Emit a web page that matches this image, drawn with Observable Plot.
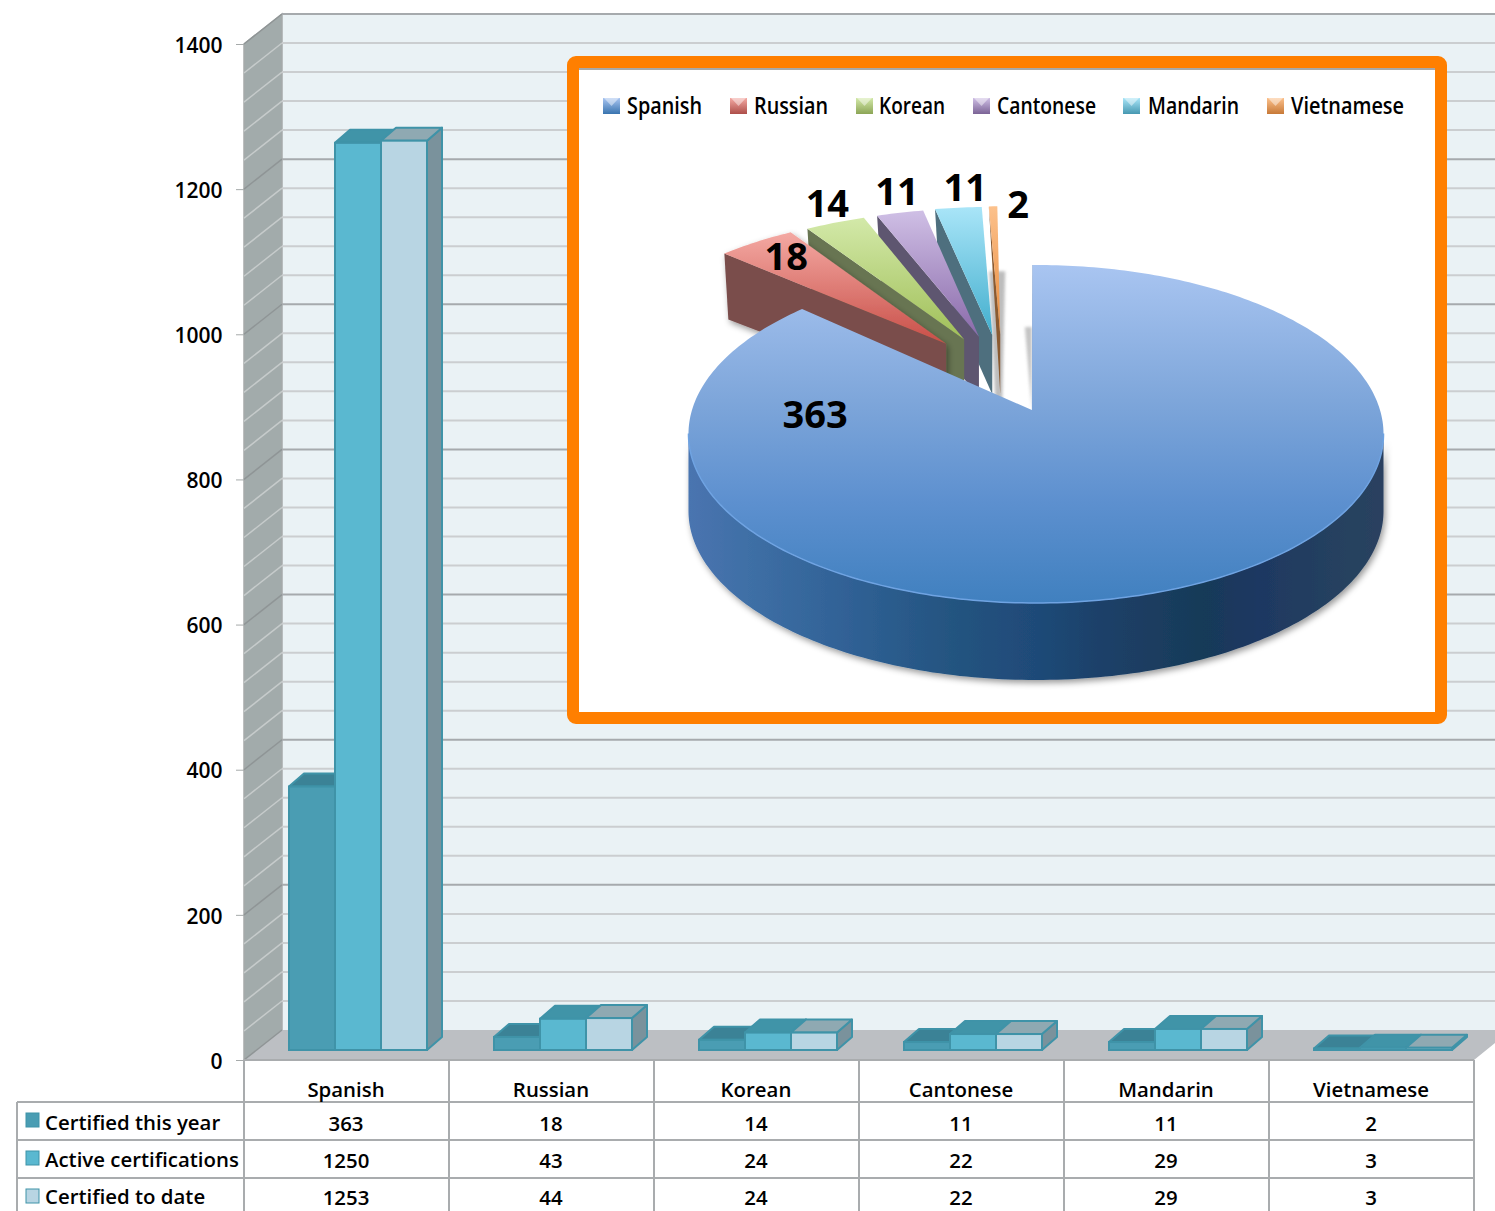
<!DOCTYPE html>
<html>
<head>
<meta charset="utf-8">
<script src="https://cdn.jsdelivr.net/npm/d3@7"></script>
<script src="https://cdn.jsdelivr.net/npm/@observablehq/plot@0.6"></script>
<style>
html,body{margin:0;padding:0;background:#fff;overflow:hidden}
svg{display:block}
</style>
</head>
<body>
<div id="chart"></div>
<script>
// ---- data ----
const categories = ["Spanish","Russian","Korean","Cantonese","Mandarin","Vietnamese"];
const seriesNames = ["Certified this year","Active certifications","Certified to date"];
const certifiedThisYear = [363,18,14,11,11,2];
const activeCertifications = [1250,43,24,22,29,3];
const certifiedToDate = [1253,44,24,22,29,3];
const yTicks = [0,200,400,600,800,1000,1200,1400];
const gridTicks = d3.range(0,1401,40);

// ---- styles ----
const seriesValues = [certifiedThisYear,activeCertifications,certifiedToDate];
const barFront = ["#4a9db3","#5ab8d0","#b8d5e3"];
const barTop = ["#3b8296","#4094a8","#8fa9b2"];
const barSide = ["#3b8296","#4094a8","#7a929c"];
const barStroke = "#3f93a8";
const tableFont = "'Open Sans','DejaVu Sans',sans-serif";
const pieTop = [["#a9c5f1","#4080bf"],["#f4a9a3","#c84e47"],["#d3e9a9","#a0bf58"],["#cfbfe5","#8a6aaa"],["#a9e5f8","#42aecd"],["#fcc18c","#e88a3a"]];
const pieSide = ["#2c5d92","#7a4e4c","#687552","#5e5670","#4e6f7e","#8a5a30"];
const legendSwatchX = [603,730,856,973,1123,1267];
const legendTextX = [627,754,879,997,1148,1291];
const legendTextW = [75,74,66,99,91,113];
const pieLabelNudge = [[-382,-169],[30,15],[-10,-19],[-3,-21],[7,-20],[25,-2]];

// ---- geometry ----
const width = 1495, height = 1211;
const marginLeft = 244, marginRight = 21, marginTop = 34, marginBottom = 161;
const colW = (width-marginLeft-marginRight)/categories.length;
const barStart = 45/colW, barW = 46/colW;
const axisDy = 10;
const barDepth = [15,-13];
const wallDepth = [38,-30];

const rows = seriesValues.flatMap((vals,s)=>vals.map((value,i)=>({s,i,value,category:categories[i]})));

const addPoly = (g,pts,attrs={})=>{
  const p = g.append("path").attr("d","M"+pts.map(q=>q.join(",")).join("L")+"Z");
  for (const k in attrs) p.attr(k,attrs[k]);
  return p;
};
const addLine = (g,x1,y1,x2,y2,stroke,w=2)=>g.append("line").attr("x1",x1).attr("y1",y1).attr("x2",x2).attr("y2",y2).attr("stroke",stroke).attr("stroke-width",w);

// walls, floor and their grid lines
function walls(index,{x,y}){
  const g = d3.create("svg:g");
  const x0=x(0), xE=width, y0=y(0)+axisDy, yT=y(1400)+axisDy;
  const [wx,wy]=wallDepth;
  addPoly(g,[[x0+wx,yT+wy],[xE,yT+wy],[xE,y0+wy],[x0+wx,y0+wy]],{fill:"#eaf2f5"});
  addPoly(g,[[x0,yT],[x0+wx,yT+wy],[x0+wx,y0+wy],[x0,y0]],{fill:"#a2abab",stroke:"#a6aaaa","stroke-width":1.5});
  addPoly(g,[[x0,y0],[x0+wx,y0+wy],[xE,y0+wy],[xE,y0+wy+13],[x(6),y0]],{fill:"#bcbfc3"});
  for(const t of gridTicks){
    const major=t%200===0;
    const yy=y(t)+axisDy;
    addLine(g,x0,yy,x0+wx,yy+wy,major?"#8f9596":"#c6cbcb",1.5);
    if(t>0) addLine(g,x0+wx,yy+wy,xE,yy+wy,major?"#a6aaad":"#cbced0",2);
  }
  addLine(g,x0,y0,x(6),y0,"#a9acae",2);
  return g.node();
}

// the depth faces of each 3D bar
const barFaces = s => (index,{x,y})=>{
  const g = d3.create("svg:g");
  const [dx,dy]=barDepth;
  categories.forEach((c,i)=>{
    const v=seriesValues[s][i];
    const xa=x(i+barStart+s*barW), xb=x(i+barStart+(s+1)*barW), yt=y(v), yb=y(0);
    addPoly(g,[[xb,yt],[xb+dx,yt+dy],[xb+dx,yb+dy],[xb,yb]],{fill:barSide[s],stroke:barStroke,"stroke-width":2,"stroke-linejoin":"round"});
    addPoly(g,[[xa,yt],[xa+dx,yt+dy],[xb+dx,yt+dy],[xb,yt]],{fill:barTop[s],stroke:barStroke,"stroke-width":2,"stroke-linejoin":"round"});
  });
  return g.node();
};

// table rules and key swatches under the axis
const tableY = [42,80,118,161]; // distances below the bar baseline
function tableRules(index,{x,y}){
  const g = d3.create("svg:g");
  const base=y(0), col="#a9acae";
  d3.range(categories.length+1).forEach(i=>addLine(g,x(i),base+axisDy,x(i),base+tableY[3],col,2));
  addLine(g,x(0)-227,base+tableY[0]+10,x(0)-227,base+tableY[3],col,2);
  tableY.slice(0,3).forEach(t=>addLine(g,x(0)-227,base+t+10,x(6),base+t+10,col,2));
  seriesNames.forEach((n,s)=>{
    g.append("rect").attr("x",x(0)-218).attr("y",base+63+s*38).attr("width",13).attr("height",14)
     .attr("fill",barFront[s]).attr("stroke",barStroke).attr("stroke-width",1);
  });
  return g.node();
}

// inset frame, 3D pie and its legend
const deg = Math.PI/180;
const cx=1036, cy=410, A=344, B=165.6, K=0.142;
const P=(u,v,z=0)=>{const w=1+K*v;return [cx+A*u/w, cy-B*v/w+z];};
function inset(){
  const g = d3.create("svg:g");
  const defs = g.append("defs");
  const grad=(id,stops,attrs)=>{
    const lg=defs.append("linearGradient").attr("id",id).attr("gradientUnits","userSpaceOnUse");
    for(const k in attrs) lg.attr(k,attrs[k]);
    stops.forEach(([o,c])=>lg.append("stop").attr("offset",o).attr("stop-color",c));
  };
  const f=defs.append("filter").attr("id","pieShadow").attr("x","-30%").attr("y","-20%").attr("width","160%").attr("height","140%");
  f.append("feDropShadow").attr("dx",2).attr("dy",3).attr("stdDeviation",3).attr("flood-color","#000").attr("flood-opacity",.4);
  defs.append("filter").attr("id","softBlur").attr("x","-60%").attr("width","220%").append("feGaussianBlur").attr("stdDeviation",1.5);

  g.append("rect").attr("x",573).attr("y",62).attr("width",868).attr("height",656).attr("rx",3)
    .attr("fill","#fff").attr("stroke","#ff7f00").attr("stroke-width",12);
  addLine(g,579,69,1435,69,"#a8a8a8",2);

  // legend
  categories.forEach((c,i)=>{
    const sx=legendSwatchX[i];
    grad("sw"+i,[[0,pieTop[i][0]],[1,d3.interpolateRgb(pieTop[i][1],pieSide[i])(.35)]],{x1:0,y1:98,x2:0,y2:114});
    g.append("rect").attr("x",sx).attr("y",98).attr("width",17).attr("height",16).attr("fill",`url(#sw${i})`);
    addPoly(g,[[sx+1,98],[sx+16,98],[sx+8.5,106]],{fill:"#fff","fill-opacity":.45});
    g.append("text").attr("x",legendTextX[i]).attr("y",114).attr("text-anchor","start").text(c)
      .attr("textLength",legendTextW[i]).attr("lengthAdjust","spacingAndGlyphs")
      .attr("font-family",tableFont).attr("font-size",24).attr("font-weight",600).attr("fill","#000");
  });

  // slices
  const arcs = d3.pie().sort(null)(certifiedThisYear);
  const slices = arcs.map((a,i)=>{
    const t0=a.startAngle/deg, t1=a.endAngle/deg;
    let mid=(t0+t1)/2; if(mid>180) mid-=360;
    const off = i===0 ? [0,0] : (()=>{const o=(-11+0.52*mid)*deg; return [0.5*Math.sin(o),0.5*Math.cos(o)];})();
    off[0]-=0.012;
    const outer = i===0 ? 0.012 : -0.025;
    const pts=[];
    const n=Math.max(2,Math.ceil(t1-t0));
    for(let j=0;j<=n;j++){const t=(t0+(t1-t0)*j/n)*deg; pts.push([Math.sin(t)+off[0]+outer,Math.cos(t)+off[1]]);}
    return {i,t0,t1,off,pts};
  });
  const depth=66;

  // soft shadows in the gap beside the thin slices
  const vApex=P(slices[5].off[0],slices[5].off[1]);
  addPoly(g,[[vApex[0]-11,vApex[1]-63],[vApex[0]+5,vApex[1]-63],[vApex[0]+2,vApex[1]+67],[vApex[0]-5,vApex[1]+67]],{fill:"#9a9a9a","fill-opacity":.65,filter:"url(#softBlur)"});

  [...slices].reverse().filter(s=>s.i>0).forEach(s=>{
    const sg=g.append("g");
    if(s.i===1) sg.attr("filter","url(#pieShadow)");
    const apex=s.off;
    const o=s.pts[0];
    addPoly(sg,[P(o[0],o[1]),P(apex[0],apex[1]),P(apex[0],apex[1],depth*0.9),[P(o[0],o[1])[0]+4,P(o[0],o[1])[1]+depth]],{fill:pieSide[s.i]});
    const a=P(apex[0],apex[1]);
    const e=s.pts[s.pts.length-1];
    grad("pt"+s.i,[[0,pieTop[s.i][0]],[1,pieTop[s.i][1]]],{x1:0,y1:P(e[0],e[1])[1],x2:0,y2:a[1]});
    addPoly(sg,[a,...s.pts.map(p=>P(p[0],p[1]))],{fill:`url(#pt${s.i})`});
  });
  // Spanish
  const sp=slices[0];
  const front=[];
  for(let t=98;t<=262;t++) front.push(P(Math.sin(t*deg),Math.cos(t*deg)));
  grad("wall",[[0,"#4a74b0"],[.1,"#3d6ea4"],[.24,"#2f6094"],[.38,"#245480"],[.5,"#1f4a78"],[.6,"#1e4068"],[.74,"#173a58"],[.82,"#1e3862"],[.96,"#27435f"],[1,"#2a4060"]],{x1:688,y1:0,x2:1383,y2:0});
  const hull=[...front,...front.slice().reverse().map(p=>[p[0],p[1]+77])];
  const wg=g.append("g").attr("filter","url(#pieShadow)");
  addPoly(wg,hull,{fill:"url(#wall)"});
  grad("spTop",[[0,pieTop[0][0]],[.4,"#7ea6da"],[.7,"#5d90cf"],[1,pieTop[0][1]]],{x1:0,y1:265,x2:0,y2:603});
  const a0=P(sp.off[0],sp.off[1]);
  const s0=P(sp.off[0],1);
  addPoly(g,[[a0[0]-7,a0[1]-83],[a0[0],a0[1]-83],[a0[0],a0[1]]],{fill:"#8a8a8a","fill-opacity":.5,filter:"url(#softBlur)"});
  addLine(g,a0[0]+1,a0[1],s0[0]+1,s0[1],"#54708f",1.5);
  addPoly(g,[a0,s0,...sp.pts.map(p=>P(p[0],p[1]))],{fill:"url(#spTop)"});
  g.append("path").attr("d","M"+front.join("L")).attr("fill","none").attr("stroke","#6fa3e2").attr("stroke-width",1.5);

  // value labels
  slices.forEach(s=>{
    const m=s.pts[Math.floor(s.pts.length/2)];
    const q=P(m[0],m[1]);
    g.append("text").attr("x",q[0]+pieLabelNudge[s.i][0]).attr("y",q[1]+pieLabelNudge[s.i][1]).attr("dy",".35em")
      .attr("text-anchor","middle").attr("font-family",tableFont).attr("font-weight",700).attr("font-size",38).attr("fill","#000")
      .text(certifiedThisYear[s.i]);
  });
  return g.node();
}

const textBase = {fontFamily:tableFont,fontWeight:600,fontSize:20.4,fill:"#000"};
const rowDy = [73.5,111,148];
const plot = Plot.plot({
  width,height,marginLeft,marginRight,marginTop,marginBottom,
  style:{background:"#fff",fontFamily:tableFont},
  x:{type:"linear",domain:[0,categories.length],axis:null},
  y:{type:"linear",domain:[0,1400],axis:null},
  marks:[
    walls,
    Plot.axisY({ticks:yTicks,anchor:"left",label:null,tickSize:8,fill:"none",dy:axisDy,stroke:"#a6aaaa",tickFormat:d=>String(d)}),
    Plot.axisY({ticks:yTicks,anchor:"left",label:null,tickSize:0,tickPadding:22,dy:axisDy+1.5,
      fontSize:21,fontWeight:600,fontFamily:tableFont,fill:"#000",tickFormat:d=>String(d)}),
    ...seriesValues.flatMap((vals,s)=>[
      barFaces(s),
      Plot.rect(rows.filter(r=>r.s===s),{
        x1:r=>r.i+barStart+s*barW, x2:r=>r.i+barStart+(s+1)*barW,
        y1:()=>0, y2:"value", fill:barFront[s], stroke:barStroke, strokeWidth:2})
    ]),
    tableRules,
    Plot.text(categories,{x:(d,i)=>i+.5,y:()=>0,dy:40,dx:-1,text:d=>d,...textBase}),
    ...seriesValues.map((vals,s)=>Plot.text(vals,{x:(d,i)=>i+.5,y:()=>0,dy:rowDy[s],dx:-1,text:d=>String(d),...textBase})),
    ...seriesNames.map((n,s)=>Plot.text([n],{x:()=>-199.5/colW,y:()=>0,dy:rowDy[s]-1,text:d=>d,textAnchor:"start",...textBase})),
    inset
  ]
});
document.getElementById("chart").appendChild(plot);
</script>
</body>
</html>
